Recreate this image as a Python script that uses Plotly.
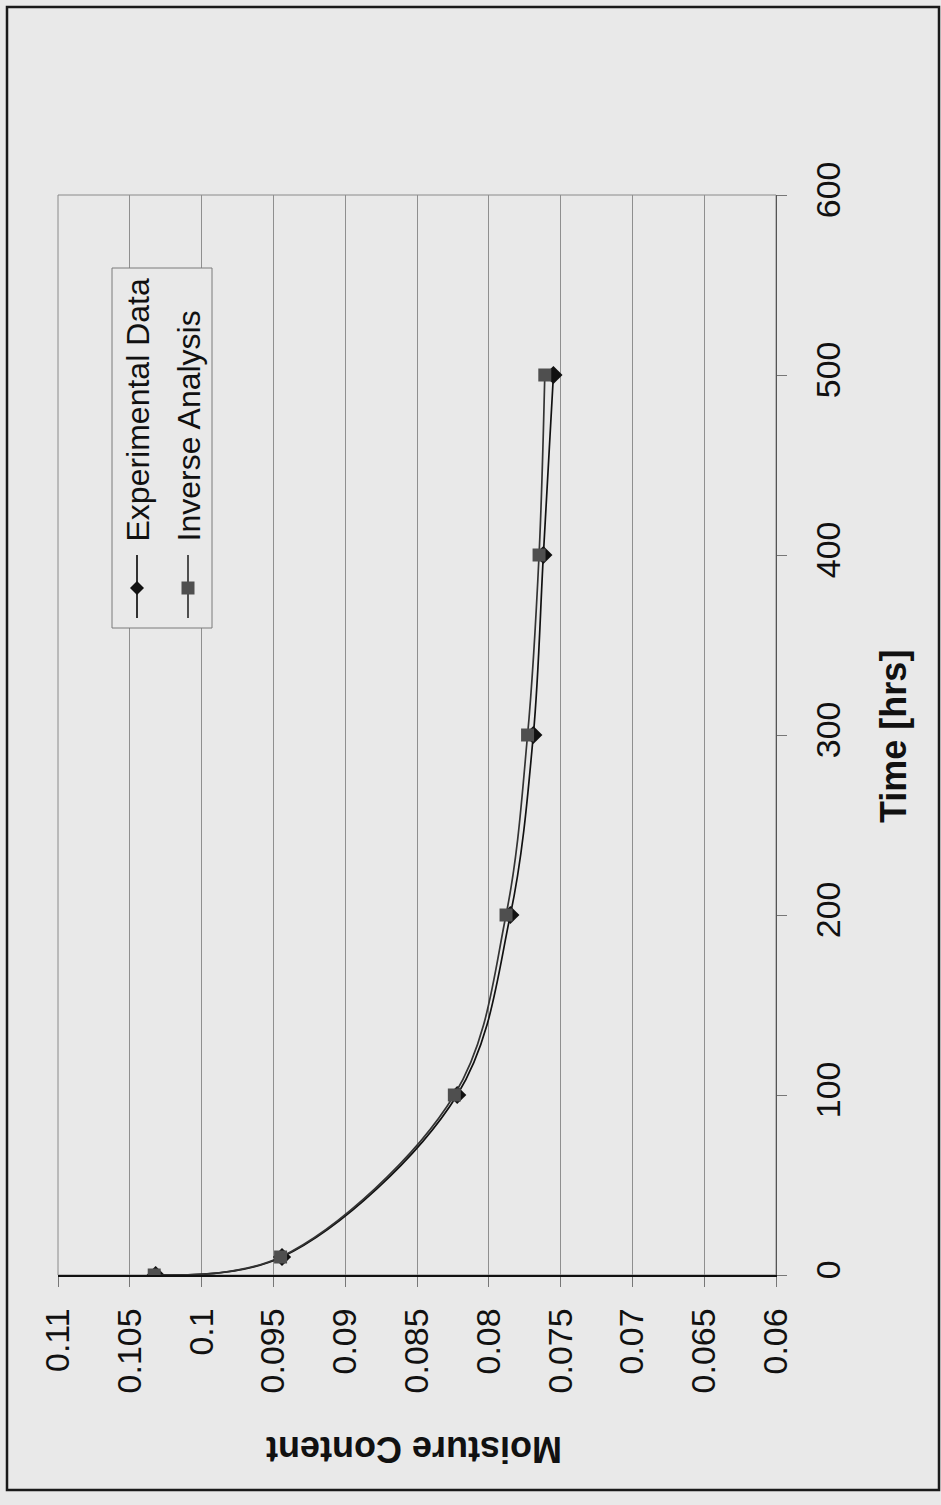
import plotly.graph_objects as go

# Drying test: moisture content vs. time (page is laid out rotated 90 degrees)
time_hrs = [0, 10, 100, 200, 300, 400, 500]
experimental = [0.1032, 0.0944, 0.0822, 0.0785, 0.0769, 0.0762, 0.0755]
inverse = [0.1033, 0.0945, 0.0824, 0.0788, 0.0773, 0.0765, 0.0761]

moisture_ticks = [0.11, 0.105, 0.1, 0.095, 0.09, 0.085, 0.08, 0.075, 0.07, 0.065, 0.06]
moisture_labels = ["0.11", "0.105", "0.1", "0.095", "0.09", "0.085", "0.08", "0.075", "0.07", "0.065", "0.06"]
time_ticks = [0, 100, 200, 300, 400, 500, 600]
time_labels = ["0", "100", "200", "300", "400", "500", "600"]

W, H = 941, 1505
BG = "#e9e9e9"
FONT = "Arial, Liberation Sans, sans-serif"

# plot area in pixels
L, R, T, B = 58, 776, 195, 1275


def px(x):
    return x / W


def py(y):
    return 1 - y / H


fig = go.Figure()

fig.add_trace(go.Scatter(
    x=experimental, y=time_hrs, mode="lines+markers", name="Experimental Data",
    line=dict(color="#111111", width=1.7, shape="spline", smoothing=1.0),
    marker=dict(symbol="diamond", size=14, color="#111111", line=dict(width=0)),
    showlegend=False,
))
fig.add_trace(go.Scatter(
    x=inverse, y=time_hrs, mode="lines+markers", name="Inverse Analysis",
    line=dict(color="#333333", width=1.7, shape="spline", smoothing=1.0),
    marker=dict(symbol="square", size=13, color="#4f4f4f", line=dict(width=0)),
    showlegend=False,
))

shapes = []
# outer chart frame
shapes.append(dict(type="rect", xref="paper", yref="paper",
                   x0=px(7), x1=px(939), y0=py(7), y1=py(1490),
                   line=dict(color="#1a1a1a", width=2.5), layer="below"))
# plot area border
shapes.append(dict(type="rect", xref="paper", yref="paper",
                   x0=px(L), x1=px(R), y0=py(T), y1=py(B),
                   line=dict(color="#8a8a8a", width=1), layer="below"))

# rotated legend box
shapes.append(dict(type="rect", xref="paper", yref="paper",
                   x0=px(112), x1=px(212), y0=py(268), y1=py(628),
                   line=dict(color="#7a7a7a", width=1), fillcolor=BG, layer="above"))
# legend keys
shapes.append(dict(type="line", xref="paper", yref="paper",
                   x0=px(137), x1=px(137), y0=py(555), y1=py(618),
                   line=dict(color="#111111", width=1.7)))
shapes.append(dict(type="path", xref="paper", yref="paper",
                   path=(f"M {px(137)} {py(581)} L {px(144)} {py(588)} "
                         f"L {px(137)} {py(595)} L {px(130)} {py(588)} Z"),
                   fillcolor="#111111", line=dict(width=0)))
shapes.append(dict(type="line", xref="paper", yref="paper",
                   x0=px(188), x1=px(188), y0=py(555), y1=py(618),
                   line=dict(color="#333333", width=1.7)))
shapes.append(dict(type="rect", xref="paper", yref="paper",
                   x0=px(181.5), x1=px(194.5), y0=py(581.5), y1=py(594.5),
                   fillcolor="#4f4f4f", line=dict(width=0)))

annotations = [
    dict(text="Experimental Data", xref="paper", yref="paper",
         x=px(137), y=py(543), xanchor="center", yanchor="bottom",
         textangle=-90, showarrow=False, borderpad=0,
         font=dict(family=FONT, size=32, color="#111111")),
    dict(text="Inverse Analysis", xref="paper", yref="paper",
         x=px(188), y=py(543), xanchor="center", yanchor="bottom",
         textangle=-90, showarrow=False, borderpad=0,
         font=dict(family=FONT, size=32, color="#111111")),
    dict(text="<b>Moisture Content</b>", xref="paper", yref="paper",
         x=px(414), y=py(1450), xanchor="center", yanchor="middle",
         textangle=180, showarrow=False,
         font=dict(family=FONT, size=36, color="#111111")),
    dict(text="<b>Time [hrs]</b>", xref="paper", yref="paper",
         x=px(894), y=py(737), xanchor="center", yanchor="middle",
         textangle=-90, showarrow=False,
         font=dict(family=FONT, size=36, color="#111111")),
]

fig.update_layout(
    template="none",
    width=W, height=H,
    margin=dict(l=0, r=0, t=0, b=0),
    paper_bgcolor=BG, plot_bgcolor=BG,
    showlegend=False,
    shapes=shapes,
    annotations=annotations,
    xaxis=dict(
        domain=[px(L), px(R)], range=[0.11, 0.06], autorange=False,
        tickmode="array", tickvals=moisture_ticks, ticktext=moisture_labels,
        tickangle=-90, ticks="outside", ticklen=10, tickcolor="#777777",
        ticklabelstandoff=8,
        showgrid=True, gridcolor="#8f8f8f", gridwidth=1,
        showline=True, linecolor="#111111", linewidth=1.5,
        zeroline=False, automargin=False,
        tickfont=dict(family=FONT, size=34, color="#111111"),
    ),
    yaxis=dict(
        domain=[py(B), py(T)], range=[0, 600], autorange=False,
        side="right", anchor="x",
        tickmode="array", tickvals=time_ticks, ticktext=time_labels,
        tickangle=-90, ticks="outside", ticklen=10, tickcolor="#777777",
        ticklabelstandoff=12,
        showgrid=False, showline=True, linecolor="#555555", linewidth=1.2,
        zeroline=False, automargin=False,
        tickfont=dict(family=FONT, size=34, color="#111111"),
    ),
)

fig.write_html("out.html")
